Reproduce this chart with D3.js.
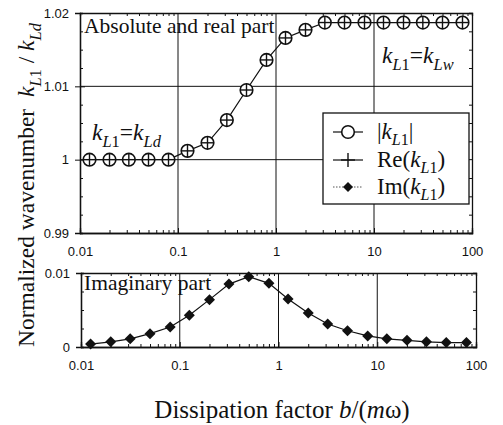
<!DOCTYPE html>
<html>
<head>
<meta charset="utf-8">
<script src="https://cdn.jsdelivr.net/npm/d3@7"></script>
<style>
  body { margin: 0; background: #fff; }
  svg { display: block; }
</style>
</head>
<body>
<script>
// dissipation factor b/(m omega)
let xValues = [0.0125, 0.02, 0.0315, 0.05, 0.08, 0.125, 0.2, 0.315, 0.5, 0.8,
               1.25, 2, 3.15, 5, 8, 12.5, 20, 31.5, 50, 80];
// |kL1| / kLd (Re is the same to plotting accuracy)
let absValues = [1.0, 1.0, 1.0, 1.0, 1.0, 1.0012, 1.0023, 1.0054, 1.0095, 1.0136,
                 1.0166, 1.0177, 1.0187, 1.0187, 1.0187, 1.0187, 1.0187, 1.0187, 1.0187, 1.0187];
let reValues = absValues.slice();
// Im(kL1) / kLd
let imValues = [0.0004, 0.0007, 0.0011, 0.0018, 0.0027, 0.0043, 0.0064, 0.0085, 0.0095, 0.0086,
                0.0065, 0.0046, 0.0031, 0.0022, 0.0015, 0.0011, 0.0009, 0.0007, 0.0006, 0.0006];

let xTicks = [0.01, 0.1, 1, 10, 100];
let xTickLabels = ["0.01", "0.1", "1", "10", "100"];
let topYTicks = [0.99, 1, 1.01, 1.02];
let topYLabels = ["0.99", "1", "1.01", "1.02"];
let botYTicks = [0, 0.01];
let botYLabels = ["0", "0.01"];

const width = 503, height = 425;
const serif = "'Liberation Serif', 'Times New Roman', serif";
const sans = "'Liberation Sans', Arial, sans-serif";

const svg = d3.select("body").append("svg")
  .attr("width", width)
  .attr("height", height);

// minor ticks for log axis
let minor = [];
[0.01, 0.1, 1, 10].forEach(function(d) {
  for (let m = 2; m <= 9; m++) minor.push(d * m);
});

function panel(cfg) {
  const x = d3.scaleLog().domain([0.01, 100]).range(cfg.xr);
  const y = d3.scaleLinear().domain(cfg.yd).range(cfg.yr);
  const g = svg.append("g");

  // grid
  g.selectAll(".vgrid").data([0.1, 1, 10]).enter().append("line")
    .attr("x1", d => x(d)).attr("x2", d => x(d))
    .attr("y1", cfg.yr[0]).attr("y2", cfg.yr[1])
    .attr("stroke", "#111").attr("stroke-width", 1);
  g.selectAll(".hgrid").data(cfg.hgrid).enter().append("line")
    .attr("x1", cfg.xr[0]).attr("x2", cfg.xr[1])
    .attr("y1", d => y(d)).attr("y2", d => y(d))
    .attr("stroke", "#111").attr("stroke-width", 1);

  // axes with inward ticks
  const bottom = g.append("g").attr("transform", "translate(0," + cfg.yr[0] + ")")
    .call(d3.axisBottom(x).tickValues(xTicks).tickSize(-5).tickPadding(14)
      .tickFormat((d, i) => xTickLabels[i]));
  const bottomMinor = g.append("g").attr("transform", "translate(0," + cfg.yr[0] + ")")
    .call(d3.axisBottom(x).tickValues(minor).tickSize(-3).tickFormat(""));
  const topAx = g.append("g").attr("transform", "translate(0," + cfg.yr[1] + ")")
    .call(d3.axisTop(x).tickValues(minor).tickSize(-3).tickFormat(""));
  const left = g.append("g").attr("transform", "translate(" + cfg.xr[0] + ",0)")
    .call(d3.axisLeft(y).tickValues(cfg.yTicks).tickSize(5).tickPadding(6)
      .tickFormat((d, i) => cfg.yLabels[i]));
  const leftMinor = g.append("g").attr("transform", "translate(" + cfg.xr[0] + ",0)")
    .call(d3.axisLeft(y).tickValues(cfg.yMinor).tickSize(-3).tickFormat(""));
  const right = g.append("g").attr("transform", "translate(" + cfg.xr[1] + ",0)")
    .call(d3.axisRight(y).tickValues(cfg.yMinor).tickSize(-3).tickFormat(""));

  [bottom, bottomMinor, topAx, left, leftMinor, right].forEach(function(a) {
    a.select(".domain").attr("stroke", "#111").attr("stroke-width", 1.3);
    a.selectAll(".tick line").attr("stroke", "#111");
    a.selectAll("text").attr("font-family", sans).attr("font-size", 13).attr("fill", "#111");
  });
  left.selectAll(".tick line").attr("x2", 5).attr("x1", -5);
  return { x: x, y: y, g: g };
}

// top panel: absolute and real part
const p1 = panel({
  xr: [80, 472], yr: [233, 13], yd: [0.99, 1.02],
  hgrid: [1, 1.01], yTicks: topYTicks, yLabels: topYLabels,
  yMinor: [0.9925, 0.995, 0.9975, 1.0025, 1.005, 1.0075, 1.0125, 1.015, 1.0175]
});

const line1 = d3.line().x(d => p1.x(d[0])).y(d => p1.y(d[1]));
p1.g.append("path")
  .datum(xValues.map((d, i) => [d, absValues[i]]))
  .attr("d", line1).attr("fill", "none").attr("stroke", "#111").attr("stroke-width", 1.2);

function circleMark(g, cx, cy) {
  g.append("circle").attr("cx", cx).attr("cy", cy).attr("r", 6.3)
    .attr("fill", "#fff").attr("stroke", "#111").attr("stroke-width", 1.6);
}
function plusMark(g, cx, cy, s) {
  g.append("line").attr("x1", cx - s).attr("x2", cx + s).attr("y1", cy).attr("y2", cy)
    .attr("stroke", "#111").attr("stroke-width", 1.4);
  g.append("line").attr("x1", cx).attr("x2", cx).attr("y1", cy - s).attr("y2", cy + s)
    .attr("stroke", "#111").attr("stroke-width", 1.4);
}
function diamondMark(g, cx, cy, s) {
  g.append("path")
    .attr("d", "M" + cx + "," + (cy - s) + "L" + (cx + s) + "," + cy + "L" + cx + "," + (cy + s) + "L" + (cx - s) + "," + cy + "Z")
    .attr("fill", "#111");
}

xValues.forEach(function(d, i) {
  circleMark(p1.g, p1.x(d), p1.y(absValues[i]));
  plusMark(p1.g, p1.x(d), p1.y(reValues[i]), 6.3);
});

// bottom panel: imaginary part
const p2 = panel({
  xr: [81, 476], yr: [347, 273], yd: [0, 0.01],
  hgrid: [], yTicks: botYTicks, yLabels: botYLabels,
  yMinor: [0.0025, 0.005, 0.0075]
});

const line2 = d3.line().x(d => p2.x(d[0])).y(d => p2.y(d[1]));
p2.g.append("path")
  .datum(xValues.map((d, i) => [d, imValues[i]]))
  .attr("d", line2).attr("fill", "none").attr("stroke", "#111").attr("stroke-width", 1.2);
xValues.forEach(function(d, i) {
  diamondMark(p2.g, p2.x(d), p2.y(imValues[i]), 5.5);
});

// rich text helper: parts = [text, italic, sub]
function rich(sel, x, y, parts, size, anchor) {
  const t = sel.append("text").attr("x", x).attr("y", y)
    .attr("font-family", serif).attr("font-size", size).attr("fill", "#111")
    .attr("text-anchor", anchor || "start");
  let wasSub = false;
  parts.forEach(function(p) {
    const ts = t.append("tspan").text(p[0]);
    if (p[1]) ts.attr("font-style", "italic");
    if (p[2]) {
      ts.attr("font-size", size * 0.7);
      if (!wasSub) ts.attr("dy", size * 0.28);
    } else if (wasSub) {
      ts.attr("dy", -size * 0.28);
    }
    wasSub = !!p[2];
  });
  return t;
}

rich(svg, 84, 33, [["Absolute and real part"]], 21.5);
rich(svg, 92, 140, [["k", 1], ["L", 1, 1], ["1", 0, 1], ["="], ["k", 1], ["L", 1, 1], ["d", 1, 1]], 23.5);
rich(svg, 382, 63, [["k", 1], ["L", 1, 1], ["1", 0, 1], ["="], ["k", 1], ["L", 1, 1], ["w", 1, 1]], 23.5);
rich(svg, 84, 290, [["Imaginary part"]], 21.5);

// legend
const lg = svg.append("g");
lg.append("rect").attr("x", 323).attr("y", 113).attr("width", 146).attr("height", 91)
  .attr("fill", "#fff").attr("stroke", "#111").attr("stroke-width", 1.3);
let legendY = [132, 160, 187];
lg.append("line").attr("x1", 333).attr("x2", 363).attr("y1", legendY[0]).attr("y2", legendY[0])
  .attr("stroke", "#111").attr("stroke-width", 1.2);
circleMark(lg, 348, legendY[0]);
lg.append("line").attr("x1", 333).attr("x2", 363).attr("y1", legendY[1]).attr("y2", legendY[1])
  .attr("stroke", "#111").attr("stroke-width", 1.2);
plusMark(lg, 348, legendY[1], 7);
lg.append("line").attr("x1", 333).attr("x2", 363).attr("y1", legendY[2]).attr("y2", legendY[2])
  .attr("stroke", "#555").attr("stroke-width", 1).attr("stroke-dasharray", "1.5,1.5");
diamondMark(lg, 348, legendY[2], 5);
rich(lg, 377, legendY[0] + 7, [["|"], ["k", 1], ["L", 1, 1], ["1", 0, 1], ["|"]], 23);
rich(lg, 377, legendY[1] + 7, [["Re("], ["k", 1], ["L", 1, 1], ["1", 0, 1], [")"]], 23);
rich(lg, 377, legendY[2] + 7, [["Im("], ["k", 1], ["L", 1, 1], ["1", 0, 1], [")"]], 23);

// axis titles
rich(svg, 0, 0, [["Normalized wavenumber"]], 23.5)
  .attr("transform", "translate(34,347) rotate(-90)");
rich(svg, 0, 0, [["k", 1], ["L", 1, 1], ["1", 0, 1], [" / "], ["k", 1], ["L", 1, 1], ["d", 1, 1]], 23.5)
  .attr("transform", "translate(34,97) rotate(-90)");
rich(svg, 282, 418, [["Dissipation factor "], ["b", 1], ["/("], ["m", 1], ["\u03c9)"]], 25, "middle");
</script>
</body>
</html>
